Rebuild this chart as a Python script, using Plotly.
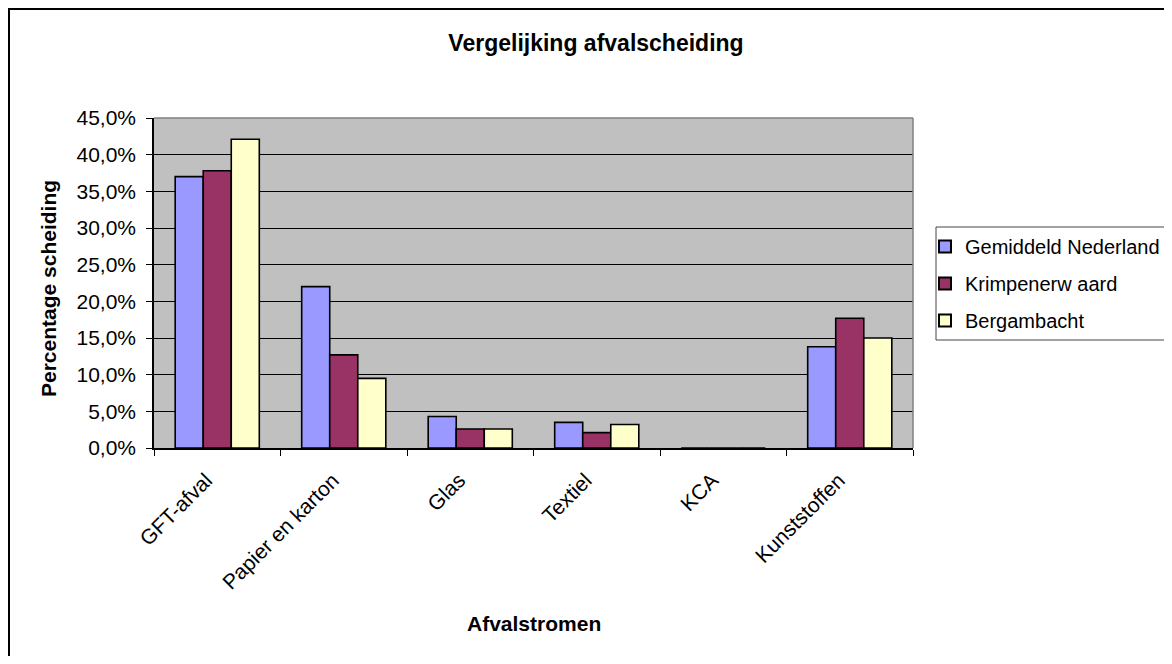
import plotly.graph_objects as go

categories = ["GFT-afval", "Papier en karton", "Glas", "Textiel", "KCA", "Kunststoffen"]
series_names = ["Gemiddeld Nederland", "Krimpenerw aard", "Bergambacht"]
gemiddeld_nederland = [37.0, 22.0, 4.3, 3.5, 0.0, 13.8]
krimpenerwaard = [37.8, 12.7, 2.6, 2.1, 0.0, 17.7]
bergambacht = [42.1, 9.5, 2.6, 3.2, 0.0, 15.0]
colors = ["#9999FF", "#993366", "#FFFFCC"]
y_tick_vals = [0, 5, 10, 15, 20, 25, 30, 35, 40, 45]
y_tick_text = ["0,0%", "5,0%", "10,0%", "15,0%", "20,0%", "25,0%", "30,0%", "35,0%", "40,0%", "45,0%"]

FONT = "Liberation Sans, Arial, sans-serif"
OFF = 8  # page body margin offset
W, H = 1172 - OFF, 664 - 2 * OFF
L, R, T, B = 154 - OFF, 913 - OFF, 118 - OFF, 448 - OFF

fig = go.Figure()
for name, vals, col in zip(series_names, [gemiddeld_nederland, krimpenerwaard, bergambacht], colors):
    fig.add_trace(go.Bar(
        x=categories, y=vals, name=name, legendgroup=name,
        marker=dict(color=col, line=dict(color="black", width=1.6)),
    ))

def px_x(px):
    return (px - OFF - L) / (R - L)

def px_y(py):
    return (B - (py - OFF)) / (B - T)

fig.update_layout(
    width=W, height=H, autosize=False,
    margin=dict(l=L, r=W - R, t=T, b=H - B, pad=0, autoexpand=False),
    paper_bgcolor="white",
    plot_bgcolor="#C0C0C0",
    barmode="group",
    bargap=0.335,
    bargroupgap=0,
    font=dict(family=FONT, size=20, color="black"),
    title=dict(text="<b>Vergelijking afvalscheiding</b>", x=(596 - OFF) / W, xanchor="center",
               y=1 - (43 - OFF) / H, yanchor="middle", font=dict(size=23, family=FONT)),
    xaxis=dict(
        type="category", tickangle=-45, tickson="boundaries",
        ticks="outside", ticklen=6, tickcolor="black", tickwidth=1,
        showline=True, linecolor="black", linewidth=1.5,
        showgrid=False, tickfont=dict(size=21), range=[-0.5, 5.5],
        automargin=False, ticklabelstandoff=10, ticklabelshift=-11,
    ),
    yaxis=dict(
        range=[0, 45], tickvals=y_tick_vals, ticktext=y_tick_text,
        ticks="outside", ticklen=6, tickcolor="black", tickwidth=1,
        showline=True, linecolor="black", linewidth=1.5,
        showgrid=True, gridcolor="black", gridwidth=1,
        zeroline=False, tickfont=dict(size=21),
        automargin=False, ticklabelstandoff=6,
    ),
    legend=dict(
        x=px_x(925), xanchor="left", y=px_y(227), yanchor="top",
        borderwidth=0, bgcolor="rgba(0,0,0,0)",
        font=dict(size=20, family=FONT), tracegroupgap=8,
        itemsizing="constant", itemwidth=30,
    ),
    showlegend=True,
)

# legend frame (extends past the right edge as in the reference)
fig.add_shape(type="rect", xref="paper", yref="paper",
              x0=px_x(936), x1=px_x(1250), y0=px_y(227), y1=px_y(340),
              line=dict(color="#444444", width=1), fillcolor="white", layer="below")

# axis titles
fig.add_annotation(text="<b>Percentage scheiding</b>", xref="paper", yref="paper",
                   x=px_x(48), y=px_y(289), textangle=-90, showarrow=False,
                   font=dict(size=21, family=FONT), xanchor="center", yanchor="middle")
fig.add_annotation(text="<b>Afvalstromen</b>", xref="paper", yref="paper",
                   x=0.5, y=px_y(623), showarrow=False,
                   font=dict(size=21, family=FONT), xanchor="center", yanchor="middle")

# gray border at top and right of plot area
fig.add_shape(type="line", xref="paper", yref="paper", x0=0, x1=1, y0=1, y1=1,
              line=dict(color="#808080", width=1.5), layer="above")
fig.add_shape(type="line", xref="paper", yref="paper", x0=1, x1=1, y0=0, y1=1,
              line=dict(color="#808080", width=1.5), layer="above")
# outer chart frame
fig.add_shape(type="rect", xref="paper", yref="paper",
              x0=px_x(9), x1=px_x(1250), y0=px_y(9), y1=px_y(700),
              line=dict(color="black", width=2), layer="above")

fig.write_html("out.html")
